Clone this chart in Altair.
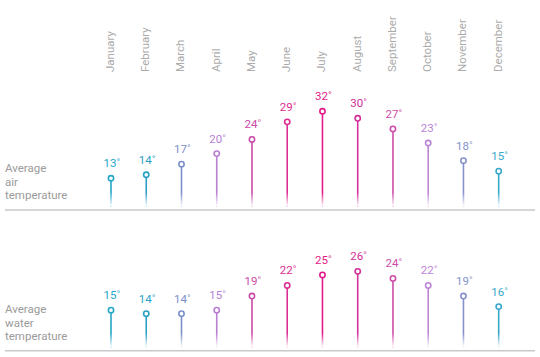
import altair as alt
import pandas as pd

months = ["January", "February", "March", "April", "May", "June", "July",
          "August", "September", "October", "November", "December"]
air = [13, 14, 17, 20, 24, 29, 32, 30, 27, 23, 18, 15]
water = [15, 14, 14, 15, 19, 22, 25, 26, 24, 22, 19, 16]
month_colors = ["#25a5c8", "#2a9fc4", "#7c8fcb", "#b97fd4", "#c94ba8", "#dc2d93",
                "#e31b8a", "#d3309a", "#cd4ea9", "#bb85d4", "#8592cc", "#37a7cb"]
row_labels = ["Average\nair\ntemperature", "Average\nwater\ntemperature"]

df = pd.DataFrame({"month": months, "air": air, "water": water})

FONT = "Roboto"
xenc = alt.X("month:N", sort=months, axis=None,
             scale=alt.Scale(type="point", domain=months, range=[111, 498.7], padding=0))
cenc = alt.Color("month:N", legend=None,
                 scale=alt.Scale(domain=months, range=month_colors))

fade = alt.LinearGradient(
    gradient="linear", x1=0, x2=0, y1=0, y2=1,
    stops=[alt.GradientStop(color="#ffffff00", offset=0),
           alt.GradientStop(color="#ffffff", offset=1)])


def row(field, dom, rng, base, label, label_y):
    ys = alt.Scale(domain=dom, range=rng)
    b = alt.Chart(df)
    stem = b.mark_rule(strokeWidth=1.6).encode(
        x=xenc, color=cenc,
        y=alt.Y(f"{field}:Q", scale=ys, axis=None),
        y2=alt.datum(base + 1.0))
    over = b.mark_bar(size=5, fill=fade).encode(
        x=xenc,
        y=alt.Y(datum=base + 5.0, scale=ys, axis=None),
        y2=alt.datum(base + 1.0))
    pts = b.mark_point(shape="circle", filled=False, fill="white", fillOpacity=1,
                       strokeWidth=1.6, size=28, opacity=1).encode(
        x=xenc, color=cenc, y=alt.Y(f"{field}:Q", scale=ys, axis=None))
    txt = b.transform_calculate(lbl=f"datum.{field} + '˚'").mark_text(
        font=FONT, fontSize=11.5, dy=-11, dx=1, baseline="alphabetic", align="center").encode(
        x=xenc, color=cenc, y=alt.Y(f"{field}:Q", scale=ys, axis=None), text="lbl:N")
    baseline = alt.Chart(pd.DataFrame({"k": [0]})).mark_rule(
        color="#c9c9c9", strokeWidth=1.5).encode(
        x=alt.value(5), x2=alt.value(535),
        y=alt.Y(datum=base, scale=ys, axis=None))
    lab = alt.Chart(pd.DataFrame({"t": [label]})).mark_text(
        font=FONT, fontSize=11.5, color="#9b9b9b", align="left",
        baseline="alphabetic", lineBreak="\n", lineHeight=13.5).encode(
        x=alt.value(5), y=alt.value(label_y), text="t:N")
    return alt.layer(stem, over, pts, txt, baseline, lab)


air_row = row("air", [4, 34], [210, 104.2], 4, row_labels[0], 172)
water_row = row("water", [3.5, 33.5], [350.7, 244.9], 3.5, row_labels[1], 313)

header = alt.Chart(df).mark_text(
    font=FONT, fontSize=11.5, color="#ababab", angle=270, align="left",
    baseline="middle").encode(x=xenc, y=alt.value(72), text="month:N")

chart = alt.layer(header, air_row, water_row).resolve_scale(y="independent").properties(
    width=540, height=357, autosize=alt.AutoSizeParams(type="none"), padding=0
).configure_view(stroke=None)

chart.save("out.html", embed_options={"renderer": "svg", "actions": False})
